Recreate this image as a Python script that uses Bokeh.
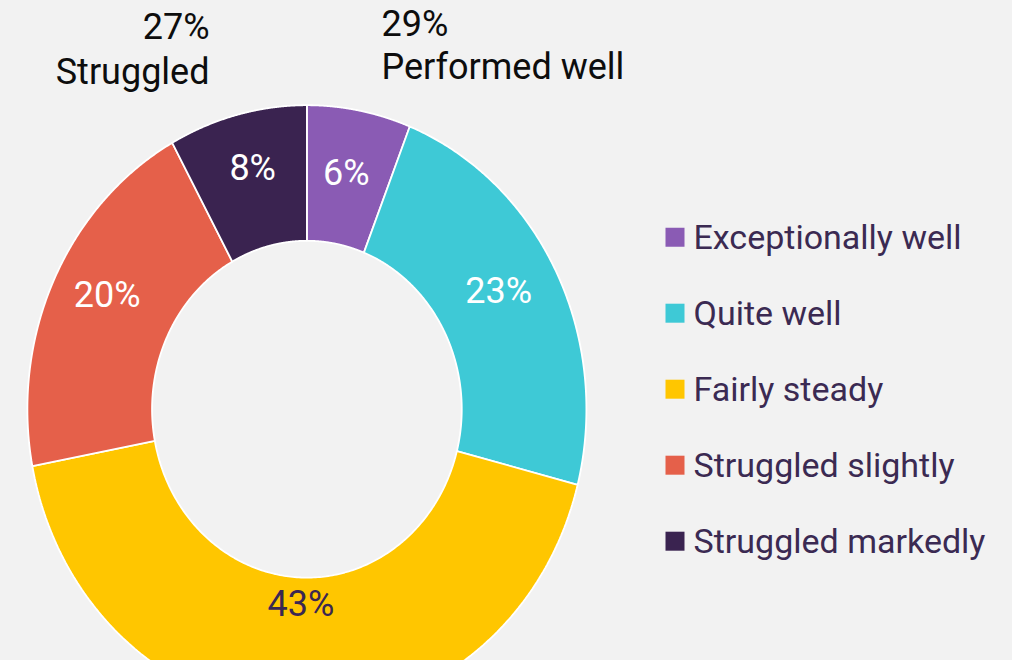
import numpy as np
from bokeh.plotting import figure
from bokeh.models import Range1d, ColumnDataSource
from bokeh.core.properties import value
from bokeh.embed import file_html
from bokeh.resources import INLINE

# ---------------- data ----------------
categories = ["Exceptionally well", "Quite well", "Fairly steady", "Struggled slightly", "Struggled markedly"]
shares = [6, 23, 43, 20, 8]
colors = ["#8a5bb4", "#3ec9d6", "#ffc600", "#e5604a", "#3a2350"]
label_colors = ["#ffffff", "#ffffff", "#3a2752", "#ffffff", "#ffffff"]
group_labels = ["Struggled", "Performed well"]
group_shares = [27, 29]

# ---------------- geometry (layout) ----------------
W, H = 1012, 660
OFF = 0                         # page offset of the figure
CX, CY = 306.4, 408.7          # donut centre in page pixels
RX, RY = 279.5, 304.0          # pixels per data unit in x / y
INNER = 0.554
label_r = [0.752, 0.77, 0.68, 0.79, 0.78]

x0 = -(CX - OFF) / RX
y1 = (CY - OFF) / RY
p = figure(width=W, height=H, output_backend="svg", toolbar_location=None,
           x_range=Range1d(x0, x0 + W / RX), y_range=Range1d(y1 - H / RY, y1),
           min_border=0, background_fill_color="#f2f2f2", border_fill_color="#f2f2f2",
           outline_line_color=None)
p.axis.visible = False
p.grid.visible = False


def dx(px):
    return (px - CX) / RX


def dy(py):
    return (CY - py) / RY


# ---------------- donut segments ----------------
total = float(sum(shares))
cum = np.concatenate([[0.0], np.cumsum(shares) / total])
xs, ys, lx, ly = [], [], [], []
for i in range(len(shares)):
    a0, a1 = 2 * np.pi * cum[i], 2 * np.pi * cum[i + 1]
    t = np.linspace(a0, a1, 200)
    ox, oy = np.sin(t), np.cos(t)
    ix, iy = INNER * np.sin(t[::-1]), INNER * np.cos(t[::-1])
    xs.append(np.concatenate([ox, ix]).tolist())
    ys.append(np.concatenate([oy, iy]).tolist())
    am = (a0 + a1) / 2
    lx.append(label_r[i] * np.sin(am))
    ly.append(label_r[i] * np.cos(am))

src = ColumnDataSource(dict(xs=xs, ys=ys, color=colors, cat=categories))
p.patches("xs", "ys", source=src, fill_color="color", line_color="#ffffff", line_width=1.8)

lsrc = ColumnDataSource(dict(x=lx, y=ly, text=[f"{v}%" for v in shares], c=label_colors))
p.text("x", "y", text="text", source=lsrc, text_color="c", text_font=value("Roboto"),
       text_font_size="36px", text_align="center", text_baseline="middle", y_offset=-12)

# ---------------- group annotations ----------------
p.text([dx(209), dx(209)], [dy(26), dy(71)], text=[f"{group_shares[0]}%", group_labels[0]],
       text_font=value("Roboto"), text_font_size="36px", text_color="#0d0d0d",
       text_align="right", text_baseline="middle")
p.text([dx(381), dx(381)], [dy(23), dy(66)], text=[f"{group_shares[1]}%", group_labels[1]],
       text_font=value("Roboto"), text_font_size="36px", text_color="#0d0d0d",
       text_align="left", text_baseline="middle")

# ---------------- legend ----------------
n = len(categories)
sq_y = [236.7 + 76 * k for k in range(n)]
p.scatter([dx(674.5)] * n, [dy(v) for v in sq_y], marker="square", size=19,
          fill_color=colors, line_color=None)
p.text([dx(693)] * n, [dy(v) for v in sq_y], text=categories,
       text_font=value("Roboto"), text_font_size="34px", text_color="#3b2a52",
       text_align="left", text_baseline="middle")

template = """{% block preamble %}<style>html, body { background: #f2f2f2; }</style>{% endblock %}"""
open("out.html", "w").write(file_html(p, INLINE, template=template))
